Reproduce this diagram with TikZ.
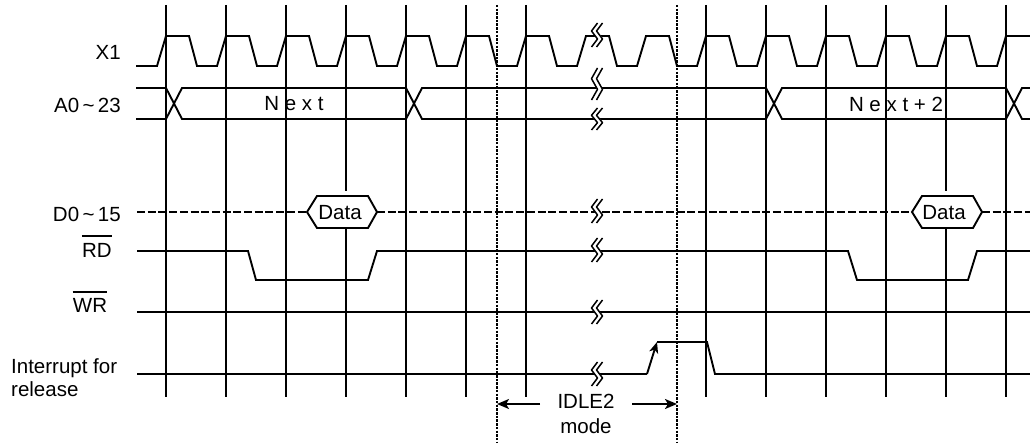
\documentclass[tikz,border=0pt]{standalone}
\usepackage{fontspec}
\setmainfont{Liberation Sans}
\usetikzlibrary{arrows.meta}
\newcommand\brkmark[3]{%
  \draw[white, line width=5pt] ({#1+3},{#2-#3}) -- ({#1-3},{#2-#3/3}) -- ({#1+3},{#2+#3/3}) -- ({#1-3},{#2+#3});
  \draw[line width=1.5pt, line join=round] ({#1+0.5},{#2-#3}) -- ({#1-5.5},{#2-#3/3}) -- ({#1+0.5},{#2+#3/3}) -- ({#1-5.5},{#2+#3});
  \draw[line width=1.5pt, line join=round] ({#1+5.5},{#2-#3}) -- ({#1-0.5},{#2-#3/3}) -- ({#1+5.5},{#2+#3/3}) -- ({#1-0.5},{#2+#3});
}
\begin{document}
\begin{tikzpicture}[x=1pt,y=-1pt,
  sig/.style={line width=1.9pt, line join=miter},
  gridline/.style={line width=1.9pt},
  dotline/.style={line width=2pt, dash pattern=on 2.5pt off 1.2pt},
  busdash/.style={line width=2.4pt, dash pattern=on 8pt off 2.7pt},
  lbl/.style={font=\fontsize{20.5}{23}\selectfont, inner sep=0pt},
  arr/.style={line width=1.9pt, -{Stealth[length=12pt,width=10pt,inset=3pt]}}]
\useasboundingbox (0,0) rectangle (1030,443);
% vertical grid lines
\foreach \t in {166,226,286,346,406,466,526,706,766,826,886,946,1006}
  \draw[gridline] (\t,5) -- (\t,397);
% X1 clock
\draw[sig] (136,66) \foreach \k in {0,...,13} { -- ({166+60*\k-9},66) -- ({166+60*\k},36) -- ({166+60*\k+23},36) -- ({166+60*\k+31},66) -- ({166+60*\k+51},66) } -- (997,66) -- (1006,36) -- (1030,36);
% A0~23 bus
\draw[sig] (136,88) -- (166,88) -- (182,119) -- (406,119) -- (422,88) -- (766,88) -- (782,119) -- (1006,119) -- (1022,88) -- (1030,88);
\draw[sig] (136,119) -- (166,119) -- (182,88) -- (406,88) -- (422,119) -- (766,119) -- (782,88) -- (1006,88) -- (1022,119) -- (1030,119);
\node[lbl] (nx1) at (294,104) {N e x t};
\node[lbl] (nx2) at (896,104) {N e x t + 2};
% D0~15 bus
\draw[busdash] (137,212) -- (307,212);
\draw[busdash] (377,212) -- (912,212);
\draw[busdash] (982,212) -- (1030,212);
% RD
\draw[sig] (137,251) -- (248,251) -- (256,280) -- (368,280) -- (377,251) -- (848,251) -- (857,280) -- (968,280) -- (977,251) -- (1030,251);
% WR
\draw[sig] (137,312) -- (1030,312);
% Interrupt
\draw[sig] (137,374) -- (647,374);
\coordinate (intlo) at (647,374);
\coordinate (inthi) at (657,342);
\draw[line width=1.9pt, -{Stealth[length=11pt,width=9pt,inset=3pt]}] (intlo) -- (inthi);
\draw[sig] (inthi) -- (707,342) -- (715,374) -- (1030,374);
% break marks
\brkmark{597}{35}{12}
\brkmark{597}{84}{16}
\brkmark{597}{119}{11}
\brkmark{597}{211}{12}
\brkmark{597}{250}{12}
\brkmark{597}{312}{12}
\brkmark{597}{374}{12}
% Data hexagons (small gap above, as in the reference)
\fill[white] (343,191) rectangle (349,197);
\draw[sig, fill=white] (307,212) -- (317,196) -- (368,196) -- (377,212) -- (368,228) -- (317,228) -- cycle;
\node[lbl] (data1) at (340,213) {Data};
\fill[white] (943,191) rectangle (949,197);
\draw[sig, fill=white] (912,212) -- (922,196) -- (973,196) -- (982,212) -- (973,228) -- (922,228) -- cycle;
\node[lbl] (data2) at (944,213) {Data};
% dotted IDLE2 boundaries
\draw[dotline] (497,5) -- (497,443);
\draw[dotline] (677,5) -- (677,443);
% labels
\node[lbl, anchor=east] (lx1) at (121,52) {X1};
\node[lbl, anchor=east] (la0) at (121,105) {A0\,\textasciitilde\,23};
\node[lbl, anchor=east] (ld0) at (121,214) {D0\,\textasciitilde\,15};
\node[lbl] (lrd) at (97,250) {RD};
\draw[line width=1.1pt] (lrd.west |- 0,236) -- (lrd.east |- 0,236);
\node[lbl] (lwr) at (90,305) {WR};
\draw[line width=1.1pt] (lwr.west |- 0,292) -- (lwr.east |- 0,292);
\node[lbl, anchor=west, align=left] (lint) at (11,378) {Interrupt for\\release};
\node[lbl, align=center, font=\fontsize{20.5}{25}\selectfont] (lidle) at (586,414) {IDLE2\\mode};
\coordinate (idl) at (497,404);
\coordinate (idr) at (677,404);
\coordinate (ids) at (540,404);
\coordinate (ide) at (632,404);
\draw[arr] (ids) -- (idl);
\draw[arr] (ide) -- (idr);
\end{tikzpicture}
\end{document}
